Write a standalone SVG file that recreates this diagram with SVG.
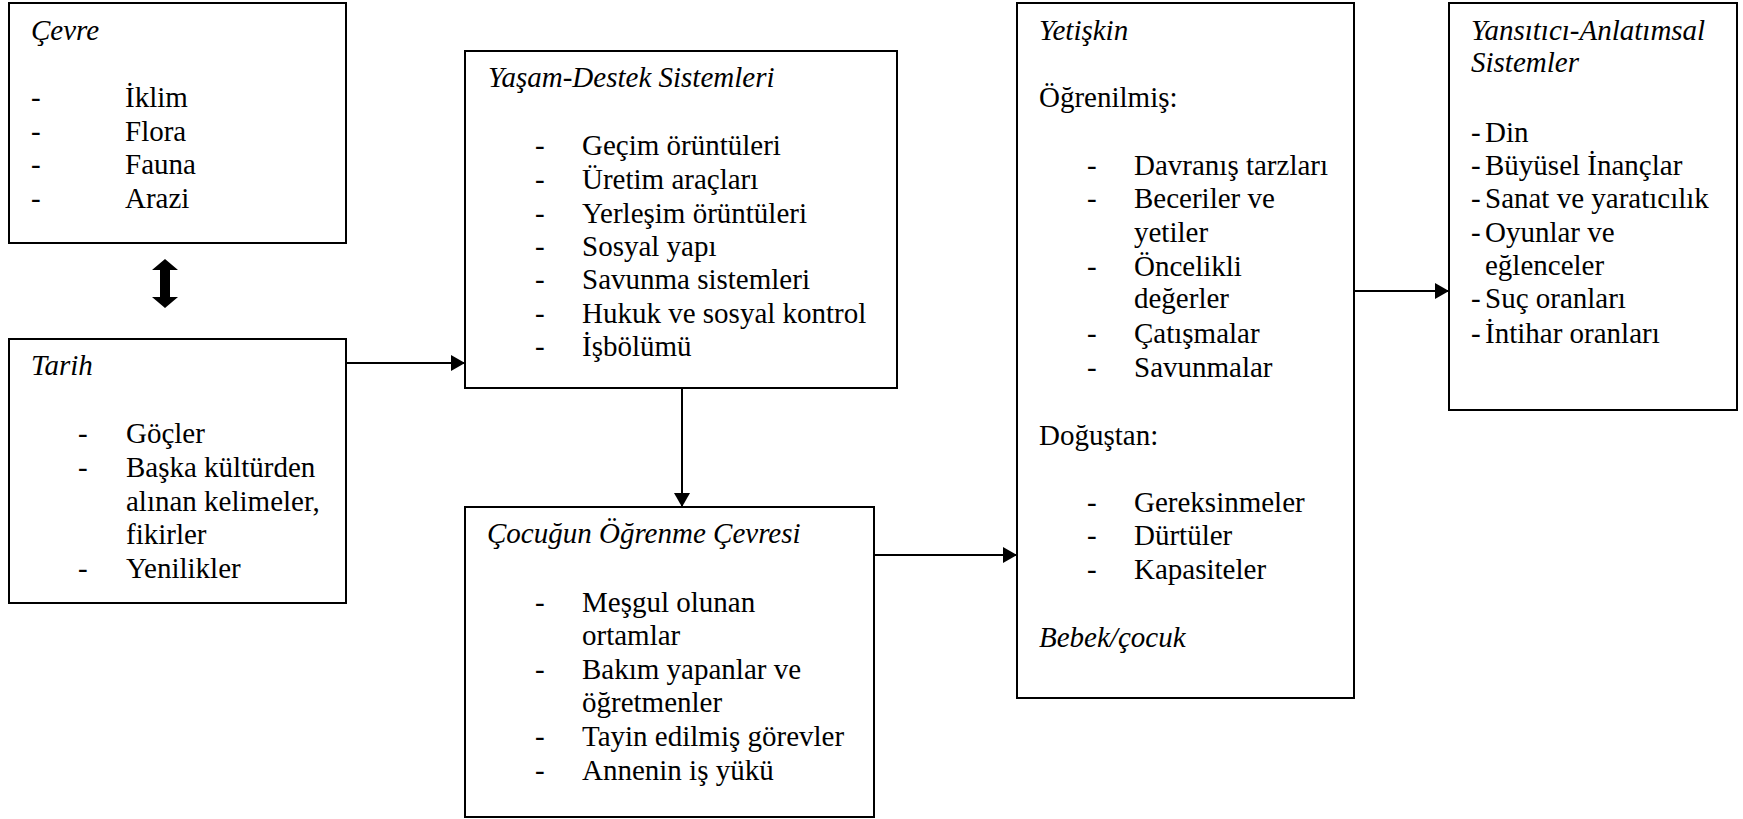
<svg xmlns="http://www.w3.org/2000/svg" width="1743" height="819" viewBox="0 0 1743 819">
  <style>
    .box { fill: #ffffff; stroke: #000000; stroke-width: 2; }
    .link { stroke: #000000; stroke-width: 2; fill: none; }
  </style>
  <defs>
    <marker id="head" markerWidth="14" markerHeight="16" refX="14" refY="8" orient="auto" markerUnits="userSpaceOnUse">
      <path d="M0,0 L14,8 L0,16 Z" fill="#000000"/>
    </marker>
  </defs>
  <rect width="1743" height="819" fill="#ffffff"/>

  <!-- Connectors -->
  <g id="connectors">
    <line class="link" x1="346" y1="363" x2="465" y2="363" marker-end="url(#head)"/>
    <line class="link" x1="682" y1="388" x2="682" y2="507" marker-end="url(#head)"/>
    <line class="link" x1="874" y1="555" x2="1017" y2="555" marker-end="url(#head)"/>
    <line class="link" x1="1354" y1="291" x2="1449" y2="291" marker-end="url(#head)"/>
    <!-- two-headed block arrow between Çevre and Tarih -->
    <path d="M165,259 L178,270 L170,270 L170,297 L178,297 L165,308 L152,297 L160,297 L160,270 L152,270 Z" fill="#000000"/>
  </g>

  <g font-family="'Liberation Serif', serif" font-size="29" fill="#000000">
  <!-- Çevre -->
  <g id="cevre">
    <rect class="box" x="9" y="3" width="337" height="240"/>
    <text font-style="italic" x="31" y="40">Çevre</text>
    <text x="31" y="107">-</text><text x="125" y="107">İklim</text>
    <text x="31" y="141">-</text><text x="125" y="141">Flora</text>
    <text x="31" y="174">-</text><text x="125" y="174">Fauna</text>
    <text x="31" y="208">-</text><text x="125" y="208">Arazi</text>
  </g>

  <!-- Tarih -->
  <g id="tarih">
    <rect class="box" x="9" y="339" width="337" height="264"/>
    <text font-style="italic" x="31" y="375">Tarih</text>
    <text x="78" y="443">-</text><text x="126" y="443">Göçler</text>
    <text x="78" y="477">-</text><text x="126" y="477">Başka kültürden</text>
    <text x="126" y="511">alınan kelimeler,</text>
    <text x="126" y="544">fikirler</text>
    <text x="78" y="578">-</text><text x="126" y="578">Yenilikler</text>
  </g>

  <!-- Yaşam-Destek Sistemleri -->
  <g id="yasam-destek">
    <rect class="box" x="465" y="51" width="432" height="337"/>
    <text font-style="italic" x="488" y="87">Yaşam-Destek Sistemleri</text>
    <text x="535" y="155">-</text><text x="582" y="155">Geçim örüntüleri</text>
    <text x="535" y="189">-</text><text x="582" y="189">Üretim araçları</text>
    <text x="535" y="223">-</text><text x="582" y="223">Yerleşim örüntüleri</text>
    <text x="535" y="256">-</text><text x="582" y="256">Sosyal yapı</text>
    <text x="535" y="289">-</text><text x="582" y="289">Savunma sistemleri</text>
    <text x="535" y="323">-</text><text x="582" y="323">Hukuk ve sosyal kontrol</text>
    <text x="535" y="356">-</text><text x="582" y="356">İşbölümü</text>
  </g>

  <!-- Çocuğun Öğrenme Çevresi -->
  <g id="ogrenme-cevresi">
    <rect class="box" x="465" y="507" width="409" height="310"/>
    <text font-style="italic" x="487" y="543">Çocuğun Öğrenme Çevresi</text>
    <text x="535" y="612">-</text><text x="582" y="612">Meşgul olunan</text>
    <text x="582" y="645">ortamlar</text>
    <text x="535" y="679">-</text><text x="582" y="679">Bakım yapanlar ve</text>
    <text x="582" y="712">öğretmenler</text>
    <text x="535" y="746">-</text><text x="582" y="746">Tayin edilmiş görevler</text>
    <text x="535" y="780">-</text><text x="582" y="780">Annenin iş yükü</text>
  </g>

  <!-- Yetişkin -->
  <g id="yetiskin">
    <rect class="box" x="1017" y="3" width="337" height="695"/>
    <text font-style="italic" x="1039" y="40">Yetişkin</text>
    <text x="1039" y="107">Öğrenilmiş:</text>
    <text x="1087" y="175">-</text><text x="1134" y="175">Davranış tarzları</text>
    <text x="1087" y="208">-</text><text x="1134" y="208">Beceriler ve</text>
    <text x="1134" y="242">yetiler</text>
    <text x="1087" y="276">-</text><text x="1134" y="276">Öncelikli</text>
    <text x="1134" y="308">değerler</text>
    <text x="1087" y="343">-</text><text x="1134" y="343">Çatışmalar</text>
    <text x="1087" y="377">-</text><text x="1134" y="377">Savunmalar</text>
    <text x="1039" y="445">Doğuştan:</text>
    <text x="1087" y="512">-</text><text x="1134" y="512">Gereksinmeler</text>
    <text x="1087" y="545">-</text><text x="1134" y="545">Dürtüler</text>
    <text x="1087" y="579">-</text><text x="1134" y="579">Kapasiteler</text>
    <text font-style="italic" x="1039" y="647">Bebek/çocuk</text>
  </g>

  <!-- Yansıtıcı-Anlatımsal Sistemler -->
  <g id="yansitici">
    <rect class="box" x="1449" y="3" width="288" height="407"/>
    <text font-style="italic" x="1471" y="40">Yansıtıcı-Anlatımsal</text>
    <text font-style="italic" x="1471" y="72">Sistemler</text>
    <text x="1471" y="142">-</text><text x="1485" y="142">Din</text>
    <text x="1471" y="175">-</text><text x="1485" y="175">Büyüsel İnançlar</text>
    <text x="1471" y="208">-</text><text x="1485" y="208">Sanat ve yaratıcılık</text>
    <text x="1471" y="242">-</text><text x="1485" y="242">Oyunlar ve</text>
    <text x="1485" y="275">eğlenceler</text>
    <text x="1471" y="308">-</text><text x="1485" y="308">Suç oranları</text>
    <text x="1471" y="343">-</text><text x="1485" y="343">İntihar oranları</text>
  </g>
  </g>
</svg>
